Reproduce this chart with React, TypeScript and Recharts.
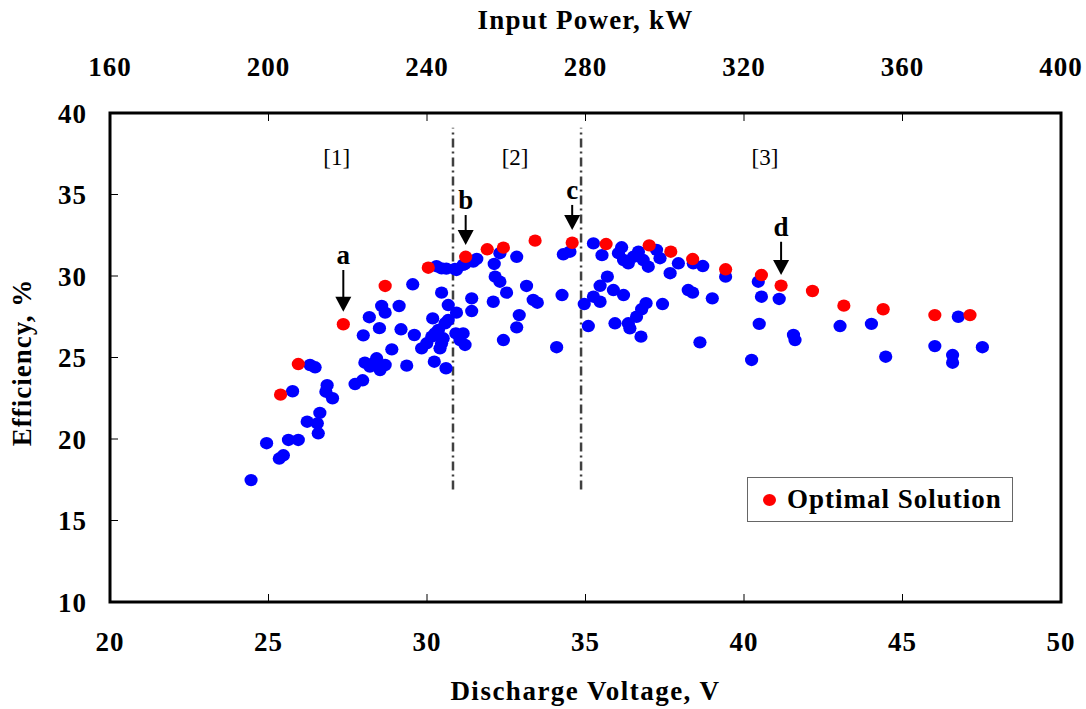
import React from 'react';
import {
  ScatterChart, Scatter, XAxis, YAxis, ReferenceLine, ReferenceArea, ReferenceDot, Legend,
} from 'recharts';

// ---- data ----
const blueV = [
  24.45, 24.94, 25.34, 25.47, 25.63, 25.94, 25.76, 26.31, 26.47, 26.22, 26.54, 26.57, 26.62, 26.85, 26.81, 27.02,
  27.73, 27.97, 27.99, 28.04, 28.2, 28.41, 28.52, 28.68, 28.3, 28.18, 28.5, 28.57, 28.68, 28.89, 29.12, 29.18,
  29.36, 29.55, 29.6, 29.83, 29.99, 30.15, 30.25, 30.36, 30.46, 30.41, 30.51, 30.57, 30.67, 30.18, 30.46, 30.67,
  30.93, 30.23, 30.6, 30.91, 31.14, 31.2, 31.04, 30.3, 30.46, 30.61, 30.88, 30.93, 31.14, 31.2, 31.46, 31.57,
  31.41, 31.41, 32.12, 32.3, 32.83, 34.3, 34.51, 32.15, 32.3, 32.51, 33.14, 33.35, 33.48, 34.26, 34.96, 32.09,
  32.91, 32.83, 32.41, 34.09, 35.09, 35.25, 35.52, 36.14, 36.04, 36.2, 36.35, 36.51, 36.67, 36.82, 36.98, 37.24,
  37.35, 37.67, 37.93, 38.4, 38.7, 39.42, 40.45, 35.69, 35.46, 35.25, 35.46, 35.88, 36.2, 35.93, 36.35, 36.4,
  36.61, 36.77, 36.91, 36.75, 37.43, 38.61, 38.24, 38.38, 39.0, 40.24, 40.48, 40.55, 41.11, 41.56, 41.61, 43.03,
  44.02, 44.47, 46.76, 46.02, 46.58, 46.58, 47.52,
];
const blueE = [
  17.48, 19.74, 18.8, 19.0, 19.94, 19.94, 22.93, 24.54, 24.4, 21.06, 20.96, 20.35, 21.6, 23.3, 22.9, 22.5,
  23.37, 23.6, 26.36, 24.68, 24.44, 24.95, 24.23, 24.54, 24.6, 27.47, 26.8, 28.16, 27.75, 25.5, 28.16, 26.73,
  24.5, 29.49, 26.38, 25.56, 25.87, 26.28, 26.48, 26.69, 25.87, 25.56, 26.18, 27.1, 27.3, 27.4, 28.98, 28.22,
  27.75, 24.74, 24.34, 26.48, 26.48, 25.77, 26.07, 30.6, 30.47, 30.45, 30.43, 30.37, 30.68, 30.74, 30.88, 31.05,
  28.63, 27.85, 30.74, 31.4, 31.18, 31.33, 31.49, 29.96, 29.65, 28.98, 29.39, 28.53, 28.36, 28.83, 28.28, 28.42,
  27.6, 26.85, 26.07, 25.63, 26.93, 32.0, 31.28, 31.76, 31.4, 30.98, 30.78, 31.18, 31.49, 30.98, 30.57, 31.6,
  31.09, 30.17, 30.78, 30.78, 30.61, 29.96, 29.65, 29.96, 29.4, 28.73, 28.42, 29.14, 28.83, 27.1, 27.1, 26.79,
  27.5, 27.96, 28.33, 26.28, 28.28, 25.93, 29.14, 28.98, 28.63, 24.85, 27.06, 28.73, 28.59, 26.38, 26.07, 26.93,
  27.06, 25.05, 27.5, 25.7, 25.15, 24.68, 25.63,
];
const redV = [25.38, 25.94, 27.36, 28.68, 30.04, 31.22, 31.9, 32.41, 33.41, 34.58, 35.65, 37.01, 37.69, 38.38, 39.42, 40.55, 41.17, 42.16, 43.15, 44.39, 46.02, 47.13];
const redE = [22.72, 24.6, 27.04, 29.39, 30.51, 31.18, 31.64, 31.74, 32.17, 32.04, 31.96, 31.88, 31.49, 31.04, 30.41, 30.06, 29.41, 29.08, 28.18, 27.96, 27.6, 27.6];

const voltTicks = [20, 25, 30, 35, 40, 45, 50];
const powerTicks = [160, 200, 240, 280, 320, 360, 400];
const effTicks = [10, 15, 20, 25, 30, 35, 40];

const boundaryV = [30.82, 34.86];
const boundaryTopE = 39.1;
const boundaryBottomE = 16.9;

const regionLabels = ['[1]', '[2]', '[3]'];
const regionV = [27.15, 32.78, 40.66];
const regionE = 37.3;

const annotLabels = ['a', 'b', 'c', 'd'];
const annotV = [27.36, 31.22, 34.58, 41.17];
const annotTipE = [27.8, 31.9, 32.82, 30.06];
const annotTailE = [30.37, 33.74, 34.36, 32.1];

const blueData = blueV.map((v, i) => ({ v, e: blueE[i] }));
const redData = redV.map((v, i) => ({ v, e: redE[i] }));
// anchors the top (power) axis to its tick range; drawn invisibly
const powerAxisData = powerTicks.map((p) => ({ p, e: effTicks[0] }));

const FONT = '"Liberation Serif", "Times New Roman", serif';
const tickStyle = { fill: '#000', fontSize: 27, fontWeight: 'bold', fontFamily: FONT, letterSpacing: 1 };

const dot = (color: string) => (props: any) => (
  <ellipse cx={props.cx} cy={props.cy} rx={6.6} ry={6.2} fill={color} />
);
const noDot = () => <g />;

const arrowShape = (label: string) => (props: any) => {
  const { x1, y1, x2, y2 } = props;
  const top = Math.min(y1, y2);
  const tip = Math.max(y1, y2);
  const headH = 15;
  const headW = 8;
  return (
    <g>
      <line x1={x1} y1={top} x2={x2} y2={tip - headH + 1} stroke="#000" strokeWidth={2} />
      <polygon points={`${x2 - headW},${tip - headH} ${x2 + headW},${tip - headH} ${x2},${tip}`} fill="#000" />
      <text x={x1} y={top - 6} textAnchor="middle" fontFamily={FONT} fontWeight="bold" fontSize={27} fill="#000">
        {label}
      </text>
    </g>
  );
};

const regionShape = (label: string) => (props: any) => (
  <text x={props.cx} y={props.cy} textAnchor="middle" dominantBaseline="central" fontFamily={FONT} fontSize={23} fill="#000">
    {label}
  </text>
);

const LegendBox = () => (
  <div
    style={{
      border: '1px solid #666',
      width: 264,
      height: 43,
      background: '#fff',
      display: 'flex',
      alignItems: 'center',
      fontFamily: FONT,
      fontWeight: 'bold',
      fontSize: 27,
      letterSpacing: 1,
      color: '#000',
      boxSizing: 'content-box',
    }}
  >
    <span style={{ display: 'inline-block', width: 13, height: 12, borderRadius: '50%', background: '#ff0000', marginLeft: 15, marginRight: 11 }} />
    <span>Optimal Solution</span>
  </div>
);

export default function App() {
  return (
    <div style={{ position: 'absolute', left: 0, top: 0, background: '#fff' }}>
      <ScatterChart width={1086} height={709} margin={{ top: 0, right: 25, bottom: 0, left: 0 }}>
        <XAxis
          dataKey="v"
          type="number"
          domain={[20, 50]}
          ticks={voltTicks}
          height={107}
          tickSize={-8}
          tickMargin={38}
          axisLine={false}
          tickLine={{ stroke: '#000', strokeWidth: 1 }}
          tick={tickStyle}
          label={{
            content: (p: any) => {
              const vb = p.viewBox;
              return (
                <text x={vb.x + vb.width / 2} y={700} textAnchor="middle" fontFamily={FONT} fontWeight="bold" fontSize={27} letterSpacing={1.5} fill="#000">
                  Discharge Voltage, V
                </text>
              );
            },
          }}
        />
        <XAxis
          xAxisId="top"
          dataKey="p"
          orientation="top"
          type="number"
          domain={[160, 400]}
          allowDataOverflow
          ticks={powerTicks}
          height={113}
          tickSize={-8}
          tickMargin={45}
          axisLine={false}
          tickLine={{ stroke: '#000', strokeWidth: 1 }}
          tick={tickStyle}
          label={{
            content: (p: any) => {
              const vb = p.viewBox;
              return (
                <text x={vb.x + vb.width / 2} y={29} textAnchor="middle" fontFamily={FONT} fontWeight="bold" fontSize={27} letterSpacing={1.2} fill="#000">
                  Input Power, kW
                </text>
              );
            },
          }}
        />
        <YAxis
          dataKey="e"
          type="number"
          domain={[10, 40]}
          ticks={effTicks}
          width={110}
          tickSize={-8}
          tickMargin={31}
          axisLine={false}
          tickLine={{ stroke: '#000', strokeWidth: 1 }}
          tick={tickStyle}
          label={{
            content: (p: any) => {
              const vb = p.viewBox;
              const cx = 31;
              const cy = vb.y + vb.height / 2 + 5;
              return (
                <text x={cx} y={cy} transform={`rotate(-90, ${cx}, ${cy})`} textAnchor="middle" fontFamily={FONT} fontWeight="bold" fontSize={27} letterSpacing={1} fill="#000">
                  Efficiency, %
                </text>
              );
            },
          }}
        />
        <ReferenceArea x1={20} x2={50} y1={10} y2={40} fill="none" stroke="#000" strokeWidth={3} ifOverflow="visible" />
        {boundaryV.map((bv, i) => (
          <ReferenceLine
            key={'b' + i}
            segment={[{ x: bv, y: boundaryBottomE }, { x: bv, y: boundaryTopE }]}
            stroke="#404040"
            strokeWidth={2.5}
            strokeDasharray="9 4 2 4"
          />
        ))}
        {regionLabels.map((lab, i) => (
          <ReferenceDot key={'r' + i} x={regionV[i]} y={regionE} r={0} shape={regionShape(lab)} />
        ))}
        <Scatter name="PowerAxis" xAxisId="top" data={powerAxisData} shape={noDot} isAnimationActive={false} legendType="none" />
        <Scatter name="Data" data={blueData} fill="#0000ff" shape={dot('#0000ff')} isAnimationActive={false} legendType="none" />
        <Scatter name="Optimal Solution" data={redData} fill="#ff0000" shape={dot('#ff0000')} isAnimationActive={false} />
        {annotLabels.map((lab, i) => (
          <ReferenceLine
            key={'a' + i}
            segment={[{ x: annotV[i], y: annotTailE[i] }, { x: annotV[i], y: annotTipE[i] }]}
            shape={arrowShape(lab)}
          />
        ))}
        <Legend
          layout="horizontal"
          verticalAlign="middle"
          align="center"
          wrapperStyle={{ position: 'absolute', left: 747, top: 477, width: 'auto', height: 'auto' }}
          content={() => <LegendBox />}
        />
      </ScatterChart>
    </div>
  );
}
